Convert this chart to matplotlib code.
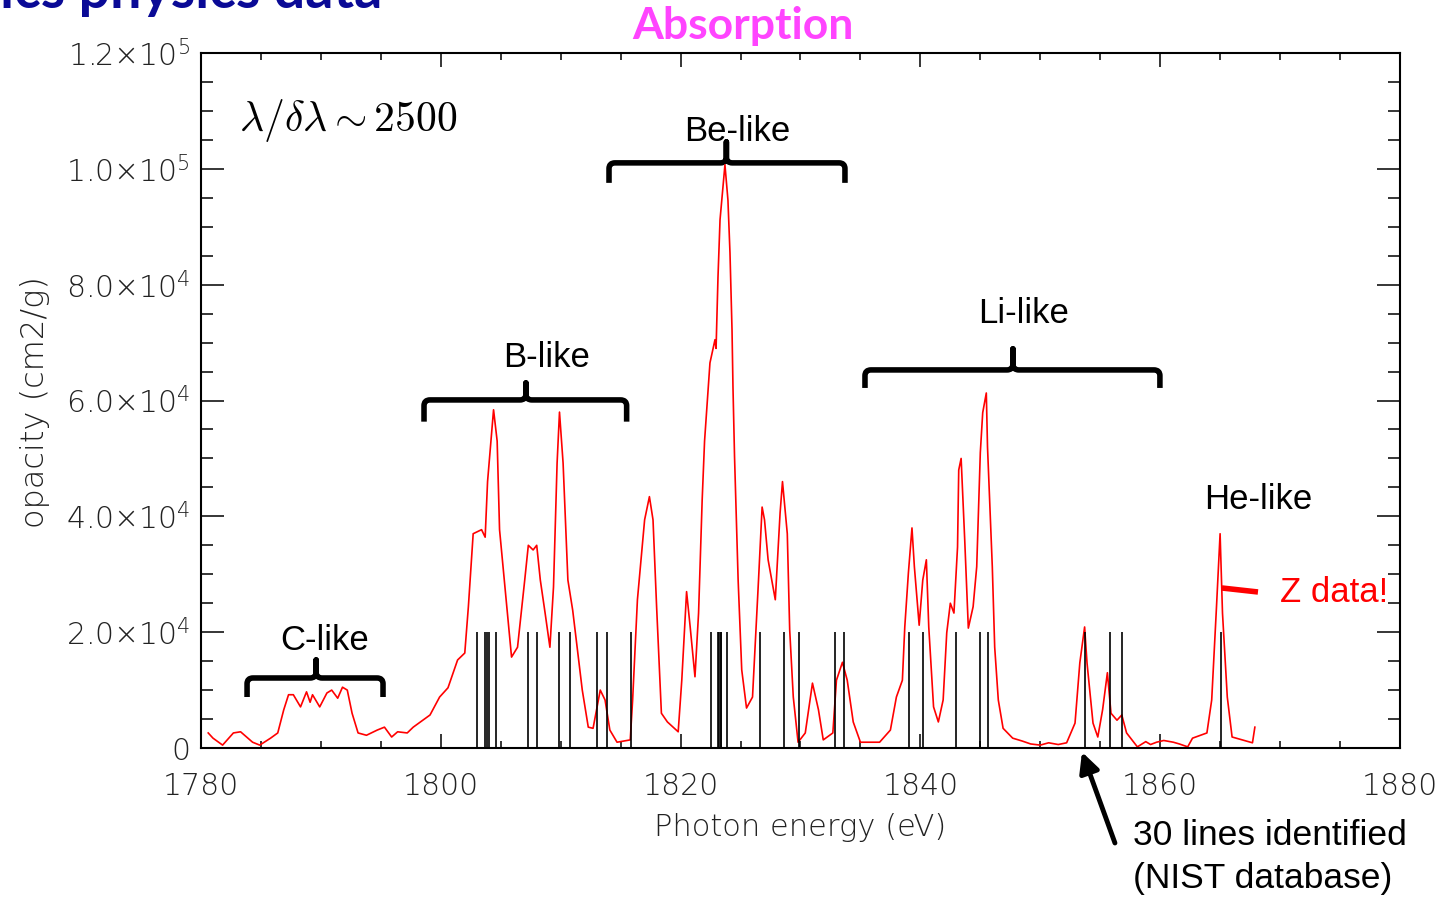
import numpy as np
import matplotlib
matplotlib.use("Agg")
import matplotlib.pyplot as plt
from matplotlib.path import Path
from matplotlib.patches import PathPatch
from matplotlib.ticker import MultipleLocator, FuncFormatter

plt.rcParams['mathtext.fontset'] = 'cm'

energy = [1780.6, 1781.0, 1781.8, 1782.7, 1783.3, 1784.3, 1784.9, 1785.8, 1786.4, 1786.9,
          1787.3, 1787.7, 1788.3, 1788.8, 1789.1, 1789.3, 1789.9, 1790.5, 1790.9, 1791.4,
          1791.8, 1792.2, 1792.6, 1793.1, 1793.8, 1794.7, 1795.3, 1795.9, 1796.4, 1797.2,
          1797.7, 1798.5, 1799.1, 1799.9, 1800.6, 1801.4, 1802.0, 1802.3, 1802.7, 1803.4,
          1803.7, 1803.9, 1804.4, 1804.7, 1804.9, 1805.5, 1805.9, 1806.4, 1807.0, 1807.3,
          1807.7, 1808.0, 1808.3, 1808.7, 1809.1, 1809.4, 1809.7, 1809.9, 1810.2, 1810.6,
          1811.0, 1811.8, 1812.3, 1812.7, 1813.3, 1813.7, 1814.1, 1814.7, 1815.8, 1816.0,
          1816.4, 1817.0, 1817.4, 1817.7, 1818.0, 1818.4, 1818.9, 1819.8, 1820.1, 1820.5,
          1820.8, 1821.2, 1821.5, 1821.8, 1822.0, 1822.3, 1822.45, 1822.87, 1822.96, 1823.12,
          1823.29, 1823.7, 1823.95, 1824.12, 1824.29, 1824.37, 1824.5, 1824.8, 1825.1, 1825.5,
          1826.0, 1826.5, 1826.8, 1827.0, 1827.3, 1827.9, 1828.3, 1828.5, 1828.9, 1829.1,
          1829.4, 1829.8, 1830.4, 1831.0, 1831.5, 1831.9, 1832.7, 1833.0, 1833.5, 1833.9,
          1834.4, 1835.0, 1836.6, 1837.5, 1838.0, 1838.5, 1838.7, 1839.0, 1839.3, 1839.5,
          1839.9, 1840.2, 1840.5, 1840.7, 1841.1, 1841.5, 1841.9, 1842.2, 1842.5, 1842.8,
          1843.1, 1843.2, 1843.4, 1843.7, 1844.0, 1844.4, 1844.7, 1845.0, 1845.2, 1845.5,
          1845.6, 1846.0, 1846.2, 1846.5, 1846.9, 1847.7, 1848.5, 1849.2, 1850.0, 1850.7,
          1851.5, 1852.2, 1852.9, 1853.3, 1853.7, 1853.9, 1854.4, 1854.8, 1855.2, 1855.6,
          1855.9, 1856.4, 1856.8, 1857.2, 1858.1, 1858.8, 1859.2, 1859.7, 1860.3, 1861.1,
          1861.6, 1862.3, 1862.7, 1863.9, 1864.3, 1864.7, 1865.0, 1865.2, 1865.6, 1866.0,
          1867.7, 1867.9]
opacity = [2600, 1700, 500, 2600, 2800, 1000, 500, 1700, 2600, 6600,
           9200, 9200, 7100, 9700, 7900, 9200, 7100, 9500, 10000, 8600,
           10500, 10000, 6000, 2600, 2200, 3100, 3600, 1900, 2800, 2600,
           3600, 4800, 5700, 8800, 10400, 15200, 16400, 24400, 37000, 37700,
           36400, 46000, 58400, 53000, 37700, 24400, 15700, 17400, 29000, 35000,
           34200, 35000, 29000, 23300, 17400, 27800, 49200, 58000, 49200, 29000,
           23800, 10000, 3600, 3400, 10000, 8300, 3100, 1000, 1400, 8300,
           25600, 39400, 43400, 39400, 24400, 6000, 4500, 2800, 11700, 27000,
           20900, 12300, 23300, 42800, 53000, 62000, 66500, 70500, 69000, 81300,
           91200, 100700, 94600, 85500, 72200, 62300, 50300, 29000, 13500, 6900,
           8800, 29000, 41600, 39400, 32500, 25600, 40600, 46000, 37000, 20400,
           8800, 1000, 2600, 11200, 6600, 1400, 2600, 11700, 14800, 11700,
           4500, 1000, 1000, 3100, 8800, 11700, 20900, 30200, 38000, 31300,
           21200, 29000, 32500, 20900, 7100, 4500, 8300, 19900, 25000, 23300,
           34700, 48000, 50000, 35900, 20700, 24400, 31300, 51000, 57900, 61300,
           52000, 31300, 17400, 8300, 3400, 1700, 1200, 700, 500, 900,
           600, 900, 4300, 14700, 20900, 14700, 4300, 1900, 6600, 13000,
           6000, 4800, 5700, 2600, 200, 1100, 600, 1000, 1300, 1000,
           700, 200, 1700, 2600, 8300, 24400, 37000, 23300, 8800, 1900,
           900, 3600]

# NIST line positions (eV)
nist_lines = [1803.05, 1803.69, 1803.88, 1804.05, 1804.6, 1807.3, 1808.0, 1809.9,
              1810.8, 1813.0, 1813.9, 1815.9, 1822.5, 1823.15, 1823.2, 1823.35,
              1823.4, 1823.9, 1826.6, 1828.6, 1829.9, 1832.9, 1833.6, 1839.05,
              1840.2, 1843.0, 1845.0, 1845.6, 1853.7, 1855.8, 1856.8, 1865.1]
nist_height = 2.0e4

# ion stage groups: (label, left, right, tip, label x, label y)
groups = [
    ("C-like", 1783.84, 1795.18, 1789.6, 1790.34, 18480),
    ("B-like", 1798.6, 1815.5, 1807.1, 1808.86, 67350),
    ("Be-like", 1814.03, 1833.71, 1823.82, 1824.7, 106380),
    ("Li-like", 1835.38, 1859.98, 1847.72, 1848.64, 74950),
]
brace_y = [(12090, 8808, 15200), (60100, 56350, 63030),
           (101030, 97580, 104660), (65280, 62170, 68910)]

tick_font = ['DejaVu Sans']
tick_color = '#222222'


def brace(ax, x0, x1, xm, yb, yend, ytip, rx=0.5, ry=1000, lw=4):
    v = [(x0, yend), (x0, yb - ry), (x0, yb), (x0 + rx, yb), (xm - rx, yb),
         (xm, yb), (xm, yb + ry), (xm, ytip),
         (xm, yb + ry), (xm, yb), (xm + rx, yb), (x1 - rx, yb),
         (x1, yb), (x1, yb - ry), (x1, yend)]
    c = [Path.MOVETO, Path.LINETO, Path.CURVE3, Path.CURVE3, Path.LINETO,
         Path.CURVE3, Path.CURVE3, Path.LINETO,
         Path.LINETO, Path.CURVE3, Path.CURVE3, Path.LINETO,
         Path.CURVE3, Path.CURVE3, Path.LINETO]
    ax.add_patch(PathPatch(Path(v, c), fill=False, lw=lw, color='black',
                           capstyle='butt', joinstyle='round', clip_on=False))


def ylab(v, pos):
    if v <= 0:
        return "0" if abs(v) < 1 else ""
    e = int(np.floor(np.log10(v) + 1e-9))
    return f"{v / 10**e:.1f}\u00d7" + r"$\mathregular{10^{%d}}$" % e


fig = plt.figure(figsize=(14.41, 8.97), dpi=100)
ax = fig.add_axes([0.1395, 0.1661, 0.832, 0.7748])

ax.plot(energy, opacity, color='red', lw=1.2)
ax.vlines(nist_lines, 0, nist_height, color='black', lw=1.2)

ax.set_xlim(1780, 1880)
ax.set_ylim(0, 1.2e5)
ax.xaxis.set_major_locator(MultipleLocator(20))
ax.xaxis.set_minor_locator(MultipleLocator(5))
ax.yaxis.set_major_locator(MultipleLocator(2e4))
ax.yaxis.set_minor_locator(MultipleLocator(5e3))
ax.yaxis.set_major_formatter(FuncFormatter(ylab))

ax.tick_params(which='both', direction='in', top=True, right=True, width=1.1,
               labelsize=21.5, labelcolor=tick_color)
ax.tick_params(axis='x', which='major', length=10, pad=17)
ax.tick_params(axis='x', which='minor', length=5)
ax.tick_params(axis='y', which='major', length=16.5, pad=8)
ax.tick_params(axis='y', which='minor', length=8.6)
for lab in ax.get_xticklabels() + ax.get_yticklabels():
    lab.set_family(tick_font)
    lab.set_fontweight('light')
for s in ax.spines.values():
    s.set_linewidth(1.5)

for (name, x0, x1, xm, lx, ly), (yb, ye, yt) in zip(groups, brace_y):
    brace(ax, x0, x1, xm, yb, ye, yt)
    ax.text(lx, ly, name, ha='center', va='center', fontsize=25,
            family='Liberation Sans')

ax.text(1868.16, 42830, "He-like", ha='center', va='center', fontsize=25,
        family='Liberation Sans')
ax.text(1869.99, 26770, "Z data!", ha='left', va='center', fontsize=25,
        family='Liberation Sans', color='red')
ax.plot([1865.15, 1868.16], [27630, 26940], color='red', lw=4,
        solid_capstyle='butt')

ax.text(1783.2, 108300, r'$\lambda/\delta\lambda \sim 2500$', fontsize=30,
        ha='left', va='center')

ax.annotate('', xy=(1853.48, -690), xytext=(1856.23, -16400),
            arrowprops=dict(arrowstyle='-|>', lw=3.5, color='black',
                            mutation_scale=30, shrinkA=0, shrinkB=0),
            annotation_clip=False)

W, H = 1441, 897
fig.text(1133 / W, 1 - 835 / H, "30 lines identified", ha='left', va='center',
         fontsize=25.5, family='Liberation Sans')
fig.text(1133 / W, 1 - 878 / H, "(NIST database)", ha='left', va='center',
         fontsize=25.5, family='Liberation Sans')

fig.text(800 / W, 1 - 827 / H, "Photon energy (eV)", ha='center', va='center',
         fontsize=22, family=tick_font, fontweight='light', color=tick_color)
fig.text(35 / W, 1 - 402 / H, "opacity (cm2/g)", ha='center', va='center',
         rotation=90, fontsize=23, family=tick_font, fontweight='light',
         color=tick_color)

fig.text(743 / W, 1 - 26 / H, "Absorption", ha='center', va='center',
         fontsize=32, family='Lato', fontweight='bold', color='#ff44ff')
fig.text(382 / W, 1 - 8 / H, "ics physics data", ha='right', va='baseline',
         fontsize=40, family='Lato', fontweight='bold', color='#0a0a96')

fig.savefig("out.png", dpi=100)
